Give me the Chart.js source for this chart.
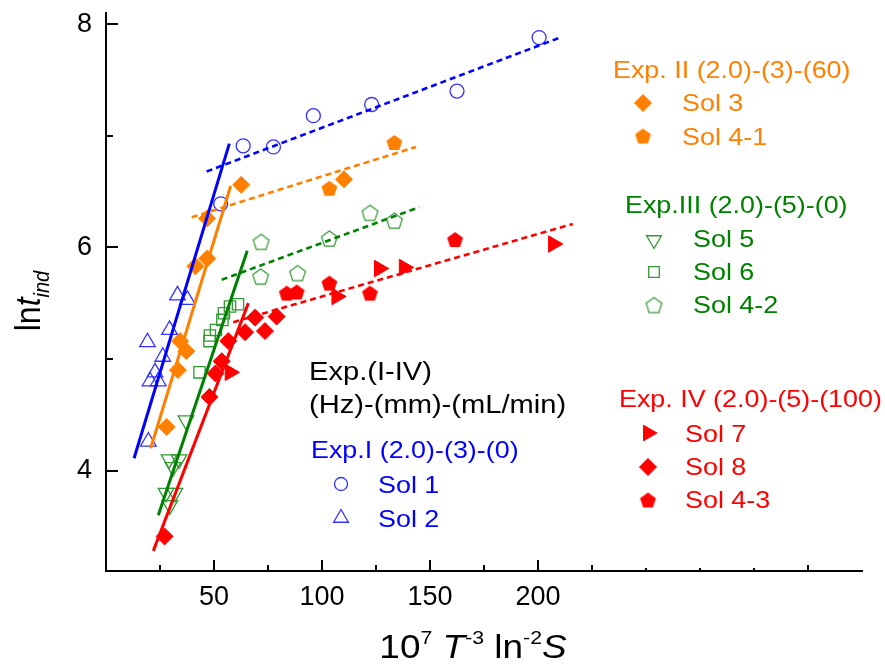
<!DOCTYPE html>
<html>
<head>
<meta charset="utf-8">
<script src="https://cdn.jsdelivr.net/npm/chart.js@4/dist/chart.umd.min.js"></script>
<style>
  html, body { margin: 0; background: #fff; }
  #c { display: block; }
</style>
</head>
<body>
<canvas id="c" width="885" height="666"></canvas>
<script>
/* ln t_ind vs 10^7 T^-3 ln^-2 S — four experiment groups, two-regime fits */

// Exp. I (blue)
const sol1X = [53.1, 63.5, 77.5, 96.0, 123.0, 162.5, 200.5];
const sol1Y = [6.39, 6.91, 6.90, 7.18, 7.28, 7.40, 7.88];
const sol2X = [19.6, 20.4, 24.2, 22.7, 19.2, 26.3, 29.4, 33.1, 37.7];
const sol2Y = [4.26, 4.80, 4.80, 4.88, 5.15, 5.02, 5.26, 5.57, 5.53];

// Exp. II (orange)
const sol3X  = [28.1, 33.3, 34.3, 37.2, 41.4, 46.9, 46.8, 62.6, 110.2];
const sol3Y  = [4.39, 4.90, 5.16, 5.07, 5.83, 5.90, 6.26, 6.56, 6.61];
const sol41X = [103.4, 133.5];
const sol41Y = [6.53, 6.94];

// Exp. III (green)
const sol5X  = [37.0, 29.2, 33.8, 31.0, 27.8, 31.9, 29.6];
const sol5Y  = [4.45, 4.10, 4.10, 4.03, 3.80, 3.80, 3.69];
const sol6X  = [43.3, 47.9, 48.1, 50.9, 53.9, 54.6, 57.4, 61.1];
const sol6Y  = [4.88, 5.16, 5.21, 5.26, 5.35, 5.41, 5.47, 5.49];
const sol42X = [71.8, 71.6, 88.7, 103.4, 122.2, 133.5];
const sol42Y = [6.05, 5.74, 5.77, 6.08, 6.31, 6.24];

// Exp. IV (red)
const sol7X  = [57.4, 106.8, 126.5, 138.0, 207.1];
const sol7Y  = [4.88, 5.56, 5.81, 5.82, 6.03];
const sol8X  = [27.1, 47.9, 50.7, 53.6, 56.6, 64.4, 69.0, 73.6, 79.0];
const sol8Y  = [3.41, 4.66, 4.87, 4.98, 5.16, 5.24, 5.37, 5.25, 5.38];
const sol43X = [83.7, 88.3, 103.4, 122.2, 161.6];
const sol43Y = [5.59, 5.60, 5.68, 5.59, 6.07];

// fit lines: [x0, x1], [y0, y1]
const fitBlueSolidX  = [13.0, 57.1],  fitBlueSolidY  = [4.11, 6.93];
const fitBlueDashX   = [46.6, 210.2], fitBlueDashY   = [6.68, 7.88];
const fitOrSolidX    = [20.7, 57.7],  fitOrSolidY    = [4.20, 6.55];
const fitOrDashX     = [39.7, 143.5], fitOrDashY     = [6.27, 6.90];
const fitGrSolidX    = [24.2, 65.4],  fitGrSolidY    = [3.60, 5.97];
const fitGrDashX     = [53.6, 145.0], fitGrDashY     = [5.71, 6.36];
const fitRedSolidX   = [21.9, 65.9],  fitRedSolidY   = [3.28, 5.50];
const fitRedDashX    = [58.9, 216.1], fitRedDashY    = [5.33, 6.21];

const xTickLabels = [50, 100, 150, 200];
const yTickLabels = [4, 6, 8];
const xMinorTicks = [25, 50, 75, 100, 125, 150, 175, 200, 225, 250, 275, 300, 325];
const yMinorTicks = [4, 5, 6, 7, 8];

const BLUE = "#0000ff", BLUE_M = "#3333ff";
const ORANGE = "#ff8000";
const GREEN = "#008000", GREEN_M = "#339933";
const RED = "#ff0000";
const FONT = '"Liberation Sans", Arial, sans-serif';
const SX = 1.12;   // text in the figure is a bit wide

const pts = (xs, ys) => xs.map((x, i) => ({ x, y: ys[i] }));

/* ── pentagon marker (Chart.js has none) ── */
function pentagon(R, fill, stroke, lw) {
  const c = document.createElement("canvas");
  c.width = c.height = Math.ceil(2 * R + 4);
  const g = c.getContext("2d");
  const cx = c.width / 2, cy = c.height / 2 + R * 0.1;
  g.beginPath();
  for (let k = 0; k < 5; k++) {
    const a = -Math.PI / 2 + k * 2 * Math.PI / 5;
    const px = cx + R * Math.cos(a), py = cy + R * Math.sin(a);
    k ? g.lineTo(px, py) : g.moveTo(px, py);
  }
  g.closePath();
  if (fill) { g.fillStyle = fill; g.fill(); }
  if (stroke) { g.strokeStyle = stroke; g.lineWidth = lw; g.stroke(); }
  return c;
}

const PENT_OR  = pentagon(8.3, ORANGE, null, 0);
const PENT_GR  = pentagon(8.3, null, GREEN_M, 1.2);
const PENT_RED = pentagon(8.3, RED, null, 0);

const scatter = (label, data, style, color, open, extra = {}) => ({
  type: "scatter",
  label,
  data,
  pointStyle: style,
  pointRadius: 8,
  pointBorderWidth: open ? 1.3 : 1,
  borderColor: color,
  backgroundColor: open ? "rgba(0,0,0,0)" : color,
  ...extra,
});

const fit = (xs, ys, color, dashed) => ({
  type: "line",
  data: pts(xs, ys),
  borderColor: color,
  borderWidth: dashed ? 2.6 : 3,
  borderDash: dashed ? [6, 4] : [],
  pointRadius: 0,
  fill: false,
  tension: 0,
});

/* ── legend / titles ── */
function text(ctx, s, x, y, size, color) {
  ctx.save();
  ctx.translate(x, y);
  ctx.scale(SX, 1);
  ctx.font = `${size}px ${FONT}`;
  ctx.fillStyle = color;
  ctx.textBaseline = "alphabetic";
  ctx.fillText(s, 0, 0);
  ctx.restore();
}

function rich(ctx, runs, x, y, rot, color) {
  ctx.save();
  ctx.translate(x, y);
  ctx.scale(SX, 1);
  ctx.rotate(rot);
  ctx.fillStyle = color;
  ctx.textBaseline = "alphabetic";
  const f = r => `${r.it ? "italic " : ""}${r.size}px ${FONT}`;
  let w = 0;
  runs.forEach(r => { ctx.font = f(r); w += ctx.measureText(r.t).width; });
  let cx = -w / 2;
  runs.forEach(r => {
    ctx.font = f(r);
    ctx.fillText(r.t, cx, r.dy || 0);
    cx += ctx.measureText(r.t).width;
  });
  ctx.restore();
}

function marker(ctx, style, x, y, r, color, open, rotation = 0) {
  ctx.save();
  ctx.fillStyle = open ? "rgba(0,0,0,0)" : color;
  ctx.strokeStyle = color;
  ctx.lineWidth = open ? 1.3 : 1;
  Chart.helpers.drawPoint(ctx, { pointStyle: style, radius: r, rotation, borderWidth: ctx.lineWidth }, x, y);
  ctx.restore();
}

const decor = {
  id: "decor",
  afterDraw(chart) {
    const { ctx, chartArea: a, scales: { x, y } } = chart;

    // inward ticks
    ctx.save();
    ctx.strokeStyle = "#000";
    ctx.lineWidth = 2;
    ctx.beginPath();
    yMinorTicks.forEach(v => {
      const py = Math.round(y.getPixelForValue(v));
      const len = v % 2 === 0 ? 12 : 7;
      ctx.moveTo(a.left, py); ctx.lineTo(a.left + len, py);
    });
    xMinorTicks.forEach(v => {
      const px = Math.round(x.getPixelForValue(v));
      let len = v % 50 === 0 ? 11 : 6;
      if (v >= 250 && v <= 300) len = 3;
      ctx.moveTo(px, a.bottom); ctx.lineTo(px, a.bottom - len);
    });
    ctx.stroke();
    ctx.restore();

    // axis titles
    rich(ctx, [
      { t: "10", size: 33 }, { t: "7", size: 19, dy: -14 }, { t: " ", size: 33 },
      { t: "T", size: 33, it: true }, { t: "-3", size: 19, dy: -14 }, { t: " ln", size: 33 },
      { t: "-2", size: 19, dy: -14 }, { t: "S", size: 33, it: true },
    ], 473, 658, 0, "#000");
    rich(ctx, [
      { t: "ln", size: 32 }, { t: "t", size: 32, it: true }, { t: "ind", size: 20, it: true, dy: 8 },
    ], 40, 301, -Math.PI / 2, "#000");

    // Exp. II
    text(ctx, "Exp. II (2.0)-(3)-(60)", 613, 78, 24, ORANGE);
    marker(ctx, "rectRot", 643, 103, 8.5, ORANGE, false);
    text(ctx, "Sol 3", 682, 111, 24, ORANGE);
    marker(ctx, PENT_OR, 643, 136, 8, ORANGE, false);
    text(ctx, "Sol 4-1", 682, 145, 24, ORANGE);

    // Exp. III
    text(ctx, "Exp.III (2.0)-(5)-(0)", 625, 213, 24, GREEN);
    marker(ctx, "triangle", 654, 240, 8.5, GREEN_M, true, 180);
    text(ctx, "Sol 5", 693, 247, 24, GREEN);
    marker(ctx, "rect", 654, 272, 7.5, GREEN_M, true);
    text(ctx, "Sol 6", 693, 280, 24, GREEN);
    marker(ctx, PENT_GR, 654, 305, 8, GREEN_M, true);
    text(ctx, "Sol 4-2", 693, 313, 24, GREEN);

    // header block
    text(ctx, "Exp.(I-IV)", 309, 380, 26, "#000");
    text(ctx, "(Hz)-(mm)-(mL/min)", 309, 413, 26, "#000");

    // Exp. I
    text(ctx, "Exp.I (2.0)-(3)-(0)", 311, 458, 24, BLUE);
    marker(ctx, "circle", 341, 484, 6.5, BLUE_M, true);
    text(ctx, "Sol 1", 378, 493, 24, BLUE);
    marker(ctx, "triangle", 341, 518, 8.5, BLUE_M, true);
    text(ctx, "Sol 2", 378, 527, 24, BLUE);

    // Exp. IV
    text(ctx, "Exp. IV (2.0)-(5)-(100)", 619, 407, 24, RED);
    marker(ctx, "triangle", 648, 433, 9, RED, false, 90);
    text(ctx, "Sol 7", 685, 442, 24, RED);
    marker(ctx, "rectRot", 648, 467, 8.5, RED, false);
    text(ctx, "Sol 8", 685, 475, 24, RED);
    marker(ctx, PENT_RED, 648, 500, 8, RED, false);
    text(ctx, "Sol 4-3", 685, 508, 24, RED);
  },
};

new Chart(document.getElementById("c"), {
  type: "scatter",
  data: {
    datasets: [
      fit(fitBlueSolidX, fitBlueSolidY, BLUE, false),
      fit(fitBlueDashX,  fitBlueDashY,  BLUE, true),
      fit(fitOrSolidX,   fitOrSolidY,   ORANGE, false),
      fit(fitOrDashX,    fitOrDashY,    ORANGE, true),
      fit(fitGrSolidX,   fitGrSolidY,   GREEN, false),
      fit(fitGrDashX,    fitGrDashY,    GREEN, true),
      fit(fitRedSolidX,  fitRedSolidY,  RED, false),
      fit(fitRedDashX,   fitRedDashY,   RED, true),
      scatter("Sol 1",   pts(sol1X, sol1Y),   "circle",   BLUE_M,  true, { pointRadius: 7 }),
      scatter("Sol 2",   pts(sol2X, sol2Y),   "triangle", BLUE_M,  true, { pointRadius: 9 }),
      scatter("Sol 3",   pts(sol3X, sol3Y),   "rectRot",  ORANGE,  false, { pointRadius: 8.5 }),
      scatter("Sol 4-1", pts(sol41X, sol41Y), PENT_OR,    ORANGE,  false),
      scatter("Sol 5",   pts(sol5X, sol5Y),   "triangle", GREEN_M, true, { pointRadius: 9, pointRotation: 180 }),
      scatter("Sol 6",   pts(sol6X, sol6Y),   "rect",     GREEN_M, true, { pointRadius: 8 }),
      scatter("Sol 4-2", pts(sol42X, sol42Y), PENT_GR,    GREEN_M, true),
      scatter("Sol 7",   pts(sol7X, sol7Y),   "triangle", RED,     false, { pointRadius: 9.5, pointRotation: 90 }),
      scatter("Sol 8",   pts(sol8X, sol8Y),   "rectRot",  RED,     false, { pointRadius: 8.5 }),
      scatter("Sol 4-3", pts(sol43X, sol43Y), PENT_RED,   RED,     false),
    ],
  },
  options: {
    responsive: false,
    animation: false,
    devicePixelRatio: 1,
    layout: { padding: { left: 0, top: 13, right: 23, bottom: 0 } },
    plugins: { legend: { display: false }, tooltip: { enabled: false } },
    scales: {
      x: {
        type: "linear",
        min: 0,
        max: 350,
        grid: { display: false, drawTicks: false },
        border: { display: true, color: "#000", width: 2 },
        ticks: { color: "#000", font: { family: FONT, size: 27 }, padding: 10, maxRotation: 0 },
        afterBuildTicks: s => { s.ticks = xTickLabels.map(v => ({ value: v })); },
        afterFit: s => { s.height = 95; s.paddingLeft = 0; s.paddingRight = 0; },
      },
      y: {
        type: "linear",
        min: 3.1,
        max: 8.1,
        grid: { display: false, drawTicks: false },
        border: { display: true, color: "#000", width: 2 },
        ticks: { color: "#000", font: { family: FONT, size: 27 }, padding: 14 },
        afterBuildTicks: s => { s.ticks = yTickLabels.map(v => ({ value: v })); },
        afterFit: s => { s.width = 106; s.paddingTop = 0; s.paddingBottom = 0; },
      },
    },
  },
  plugins: [decor],
});
</script>
</body>
</html>
